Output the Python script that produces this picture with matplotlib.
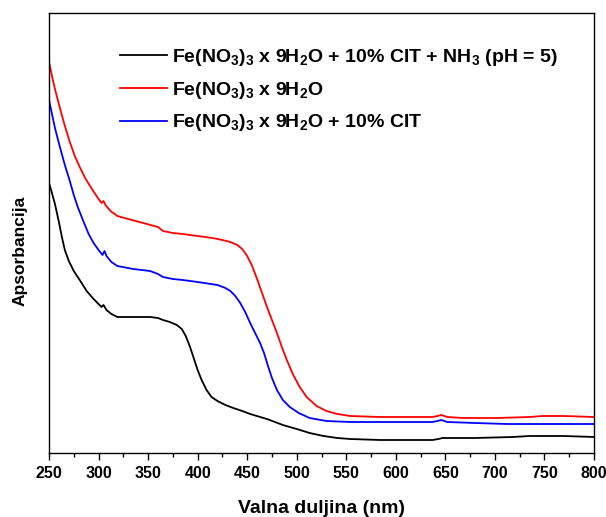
import matplotlib
matplotlib.use("Agg")
import matplotlib.pyplot as plt
import numpy as np

plt.rcParams['font.family'] = ['Liberation Sans', 'DejaVu Sans']
plt.rcParams['font.weight'] = 'bold'
plt.rcParams['mathtext.fontset'] = 'custom'
plt.rcParams['mathtext.rm'] = 'Liberation Sans:bold'
plt.rcParams['mathtext.default'] = 'rm'

# data (wavelength nm, absorbance in arbitrary units)
red_x = [250, 253, 256, 261, 266, 271, 276, 281, 287, 294, 300, 303, 305, 307, 312, 319, 330, 345, 360, 365, 375, 385,
         400, 415, 425, 433, 440, 445, 450, 455, 460, 465, 470, 475, 480, 485, 490, 496, 503, 510, 520, 530, 541, 554,
         584, 637, 642, 646, 652, 668, 702, 735, 748, 770, 800]
red_y = [3.91, 3.77, 3.64, 3.45, 3.27, 3.11, 2.97, 2.86, 2.74, 2.63, 2.54, 2.50, 2.52, 2.48, 2.42, 2.37, 2.34, 2.30,
         2.26, 2.22, 2.20, 2.19, 2.17, 2.15, 2.13, 2.11, 2.08, 2.04, 1.97, 1.87, 1.74, 1.60, 1.46, 1.33, 1.20, 1.06,
         0.93, 0.79, 0.66, 0.56, 0.47, 0.42, 0.39, 0.37, 0.36, 0.36, 0.37, 0.38, 0.36, 0.35, 0.35, 0.36, 0.37, 0.37, 0.36]

blue_x = [250, 253, 256, 261, 266, 271, 275, 279, 285, 290, 295, 300, 304, 306, 308, 313, 319, 335, 352, 360, 365, 375,
          385, 400, 420, 428, 433, 438, 443, 448, 453, 458, 463, 467, 471, 475, 480, 486, 493, 502, 513, 530, 554, 584,
          637, 642, 646, 652, 680, 712, 800]
blue_y = [3.53, 3.39, 3.25, 3.06, 2.88, 2.72, 2.58, 2.46, 2.31, 2.19, 2.10, 2.03, 1.98, 2.02, 1.97, 1.91, 1.87, 1.84,
          1.82, 1.79, 1.76, 1.74, 1.73, 1.71, 1.68, 1.65, 1.62, 1.57, 1.50, 1.41, 1.30, 1.20, 1.10, 1.00, 0.87, 0.75,
          0.63, 0.53, 0.46, 0.40, 0.35, 0.32, 0.31, 0.31, 0.31, 0.32, 0.33, 0.31, 0.30, 0.29, 0.29]

black_x = [250, 253, 256, 260, 263, 266, 270, 275, 281, 288, 295, 300, 303, 305, 308, 313, 319, 335, 352, 360, 365, 372,
           379, 384, 388, 392, 396, 400, 404, 409, 414, 420, 428, 436, 445, 453, 470, 486, 500, 513, 527, 541, 554, 584,
           637, 643, 647, 680, 718, 735, 748, 770, 800]
black_y = [2.70, 2.60, 2.49, 2.31, 2.16, 2.03, 1.92, 1.82, 1.73, 1.62, 1.54, 1.49, 1.46, 1.48, 1.43, 1.39, 1.36, 1.36,
           1.36, 1.35, 1.33, 1.31, 1.28, 1.24, 1.17, 1.07, 0.95, 0.83, 0.73, 0.63, 0.56, 0.52, 0.48, 0.45, 0.42, 0.39,
           0.34, 0.28, 0.24, 0.20, 0.17, 0.15, 0.14, 0.13, 0.13, 0.14, 0.15, 0.15, 0.16, 0.17, 0.17, 0.17, 0.16]

labels = [r'Fe(NO$_3$)$_3$ x 9H$_2$O + 10% CIT + NH$_3$ (pH = 5)',
          r'Fe(NO$_3$)$_3$ x 9H$_2$O',
          r'Fe(NO$_3$)$_3$ x 9H$_2$O + 10% CIT']
xticks = [250, 300, 350, 400, 450, 500, 550, 600, 650, 700, 750, 800]

fig = plt.figure(figsize=(6.06, 5.17), dpi=100)
ax = fig.add_axes([49/606, 64/517, 545/606, 440/517])

ax.plot(black_x, black_y, color='black', lw=1.3, label=labels[0])
ax.plot(red_x, red_y, color='#ff0000', lw=1.3, label=labels[1])
ax.plot(blue_x, blue_y, color='#0000ff', lw=1.3, label=labels[2])

ax.set_xlim(250, 800)
ax.set_ylim(0, 4.4)
ax.set_xticks(xticks)
ax.set_xticks(np.arange(275, 800, 50), minor=True)
ax.set_yticks([])
ax.tick_params(axis='x', which='major', direction='out', length=5, width=1, labelsize=11.5, pad=4)
ax.tick_params(axis='x', which='minor', direction='out', length=3, width=1)
for s in ax.spines.values():
    s.set_linewidth(1.0)

ax.set_xlabel('Valna duljina (nm)', fontsize=14, fontweight='bold', labelpad=14)
ax.set_ylabel('Apsorbancija', fontsize=12.5, fontweight='bold')
ax.yaxis.set_label_coords(-0.04, 0.46)

ax.legend(loc='upper left', bbox_to_anchor=(71/545, 1 - 34/440), frameon=False,
          fontsize=14, handlelength=2.4, handletextpad=0.3, labelspacing=0.6,
          borderpad=0, borderaxespad=0)

fig.savefig('out.png', dpi=100)
